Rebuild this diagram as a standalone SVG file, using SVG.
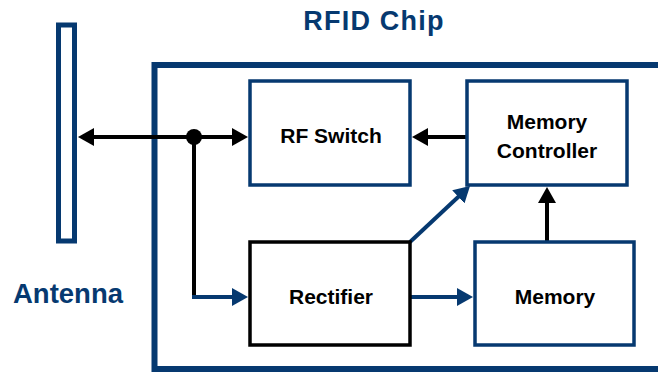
<svg xmlns="http://www.w3.org/2000/svg" width="658" height="372" viewBox="0 0 658 372">
<style>
.box{fill:#fff;stroke:#063970;stroke-width:3.5}
.lbl{font-family:"Liberation Sans",Arial,sans-serif;font-weight:bold;font-size:21px;fill:#000;text-anchor:middle}
.title{font-family:"Liberation Sans",Arial,sans-serif;font-weight:bold;fill:#063970}
.k{stroke:#000;stroke-width:4;fill:none}
.b{stroke:#063970;stroke-width:4;fill:none}
</style>
<defs>
<marker id="ak" markerUnits="userSpaceOnUse" markerWidth="16" markerHeight="18" refX="6" refY="9" orient="auto-start-reverse" viewBox="0 0 16 18"><path d="M0,0 L16,9 L0,18 z" fill="#000"/></marker>
<marker id="ab" markerUnits="userSpaceOnUse" markerWidth="16" markerHeight="18" refX="6" refY="9" orient="auto" viewBox="0 0 16 18"><path d="M0,0 L16,9 L0,18 z" fill="#063970"/></marker>
</defs>
<text class="title" x="374" y="30" font-size="27" text-anchor="middle" letter-spacing="1.2">RFID Chip</text>
<g id="antenna">
<rect x="58.5" y="25" width="16" height="216" fill="#fff" stroke="#063970" stroke-width="5"/>
<text class="title" x="68" y="303" font-size="27.5" text-anchor="middle">Antenna</text>
</g>
<g id="chip">
<rect x="154.5" y="65" width="520" height="304" fill="none" stroke="#063970" stroke-width="6"/>
</g>
<g id="connectors">
<line class="k" x1="88" y1="137" x2="238" y2="137" marker-start="url(#ak)" marker-end="url(#ak)"/>
<circle cx="194" cy="137" r="8" fill="#000"/>
<polyline class="k" points="194,137 194,297"/>
<line class="b" x1="192" y1="297" x2="238" y2="297" marker-end="url(#ab)"/>
<line class="k" x1="467" y1="137" x2="422" y2="137" marker-end="url(#ak)"/>
<line class="b" x1="410" y1="242" x2="462.7" y2="192.8" marker-end="url(#ab)"/>
<line class="b" x1="410" y1="297" x2="463" y2="297" marker-end="url(#ab)"/>
<line class="k" x1="547" y1="242" x2="547" y2="197" marker-end="url(#ak)"/>
</g>
<g id="rfswitch">
<rect class="box" x="250" y="81" width="160" height="104"/>
<text class="lbl" x="331" y="143">RF Switch</text>
</g>
<g id="memctrl">
<rect class="box" x="467" y="81" width="160" height="104"/>
<text class="lbl" x="547" y="129">Memory</text>
<text class="lbl" x="547" y="158">Controller</text>
</g>
<g id="rectifier">
<rect x="250" y="242" width="160" height="103" fill="#fff" stroke="#000" stroke-width="3.5"/>
<text class="lbl" x="331" y="304">Rectifier</text>
</g>
<g id="memory">
<rect class="box" x="475" y="242" width="159" height="103"/>
<text class="lbl" x="555" y="304">Memory</text>
</g>
</svg>
